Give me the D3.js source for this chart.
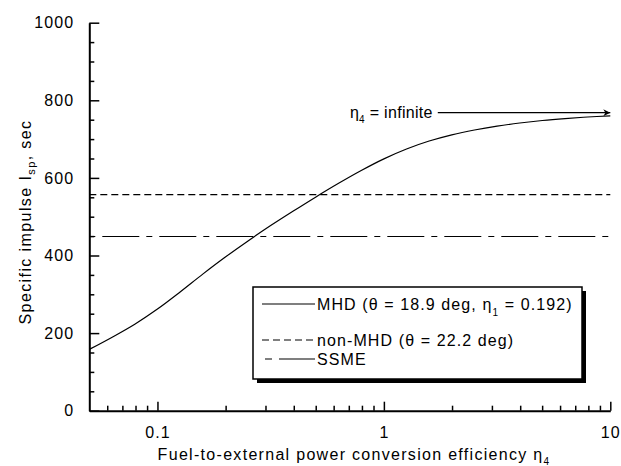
<!DOCTYPE html>
<html>
<head>
<meta charset="utf-8">
<script src="https://cdn.jsdelivr.net/npm/d3@7"></script>
<style>
  html, body { margin: 0; padding: 0; background: #fff; }
  svg { display: block; }
  text { font-family: "Liberation Sans", Arial, sans-serif; fill: #000; }
</style>
</head>
<body>
<svg id="chart" width="621" height="466"></svg>
<script>
// Fuel-to-external power conversion efficiency (log axis)
const eta = [0.05, 0.0631, 0.0794, 0.1, 0.1259, 0.1585, 0.1995, 0.2512, 0.3162, 0.3981, 0.5012, 0.631, 0.7943, 1, 1.259, 1.585, 1.995, 2.512, 3.162, 3.981, 5.012, 6.31, 7.943, 10];
// Specific impulse of the MHD-augmented engine, sec
const ispMHD = [158, 189.5, 223, 262, 306, 352, 396, 437.5, 477, 514.5, 551, 586, 619, 649, 674.5, 695, 711, 723.5, 733.5, 741.5, 748, 753, 757, 760];
// Constant reference levels, sec
const ispNonMHD = 557;
const ispSSME = 449;
// Asymptote marker for infinite efficiency
const arrowIsp = 768;
const arrowFrom = 1.73;
const arrowTo = 10;

const xTicks = [0.1, 1, 10];
const xTickLabels = ["0.1", "1", "10"];
const yTicks = [0, 200, 400, 600, 800, 1000];

const svg = d3.select("#chart");
const x = d3.scaleLog().domain([0.05, 10]).range([89.3, 610.3]);
const y = d3.scaleLinear().domain([0, 1000]).range([410.7, 22.7]);

const FONT = "16px";
const LS = "1.1px";

// minor ticks
const xMinor = [];
[0.01, 0.1, 1].forEach(d => { for (let k = 2; k <= 9; k++) { const v = d * k; if (v > 0.05 && v < 10) xMinor.push(+v.toFixed(4)); } });
const yMinor = d3.range(50, 1000, 50).filter(v => v % 200 !== 0);

svg.append("g").attr("transform", `translate(0,${y(0)})`)
  .call(d3.axisBottom(x).tickValues(xMinor).tickSize(-5).tickSizeOuter(0).tickFormat(""))
  .call(g => g.select(".domain").remove())
  .call(g => g.selectAll("line").attr("stroke", "#000").attr("stroke-width", 1.5));

svg.append("g").attr("transform", `translate(${x(0.05)},0)`)
  .call(d3.axisLeft(y).tickValues(yMinor).tickSize(-5).tickSizeOuter(0).tickFormat(""))
  .call(g => g.select(".domain").remove())
  .call(g => g.selectAll("line").attr("stroke", "#000").attr("stroke-width", 1.5));

// major axes
const xAxis = svg.append("g").attr("transform", `translate(0,${y(0)})`)
  .call(d3.axisBottom(x).tickValues(xTicks).tickFormat((d, i) => xTickLabels[i])
    .tickSize(-9).tickSizeOuter(0).tickPadding(16));
xAxis.select(".domain").attr("stroke", "#000").attr("stroke-width", 2);
xAxis.selectAll("line").attr("stroke", "#000").attr("stroke-width", 1.5);
xAxis.selectAll("text").attr("font-size", FONT).attr("letter-spacing", LS)
  .attr("font-family", "Liberation Sans, Arial, sans-serif").attr("fill", "#000");

const yAxis = svg.append("g").attr("transform", `translate(${x(0.05)},0)`)
  .call(d3.axisLeft(y).tickValues(yTicks).tickFormat(d3.format("d"))
    .tickSize(-10).tickSizeOuter(0).tickPadding(15));
yAxis.select(".domain").attr("stroke", "#000").attr("stroke-width", 2);
yAxis.selectAll("line").attr("stroke", "#000").attr("stroke-width", 1.5);
yAxis.selectAll("text").attr("font-size", FONT).attr("letter-spacing", LS)
  .attr("font-family", "Liberation Sans, Arial, sans-serif").attr("fill", "#000");

// reference levels
svg.append("line")
  .attr("x1", x(0.05)).attr("x2", x(10))
  .attr("y1", y(ispNonMHD)).attr("y2", y(ispNonMHD))
  .attr("stroke", "#000").attr("stroke-width", 1.2).attr("stroke-dasharray", "7,4");
svg.append("line")
  .attr("x1", x(0.05)).attr("x2", x(10))
  .attr("y1", y(ispSSME)).attr("y2", y(ispSSME))
  .attr("stroke", "#000").attr("stroke-width", 1.2).attr("stroke-dasharray", "6,7,37,7");

// MHD curve
const line = d3.line().x((d, i) => x(eta[i])).y(d => y(d)).curve(d3.curveCatmullRom.alpha(0.5));
svg.append("path").datum(ispMHD).attr("d", line)
  .attr("fill", "none").attr("stroke", "#000").attr("stroke-width", 1.2);

// asymptote arrow
svg.append("defs").append("marker")
  .attr("id", "head").attr("viewBox", "0 0 10 10").attr("refX", 10).attr("refY", 5)
  .attr("markerWidth", 10).attr("markerHeight", 7).attr("markerUnits", "userSpaceOnUse")
  .attr("orient", "auto")
  .append("path").attr("d", "M0,0 L10,5 L0,10 L3,5 Z").attr("fill", "#000");
svg.append("line")
  .attr("x1", x(arrowFrom)).attr("x2", x(arrowTo))
  .attr("y1", y(arrowIsp)).attr("y2", y(arrowIsp))
  .attr("stroke", "#000").attr("stroke-width", 1.2).attr("marker-end", "url(#head)");
const lab = svg.append("text")
  .attr("x", x(arrowFrom) - 5).attr("y", y(arrowIsp) + 5)
  .attr("text-anchor", "end").attr("font-size", FONT).attr("letter-spacing", "0.3px");
lab.append("tspan").text("η");
lab.append("tspan").attr("font-size", "10px").attr("dy", 5).text("4");
lab.append("tspan").attr("dy", -5).text(" = infinite");

// axis titles
const xt = svg.append("text")
  .attr("x", 354).attr("y", 460).attr("text-anchor", "middle")
  .attr("font-size", FONT).attr("letter-spacing", "1.3px");
xt.append("tspan").text("Fuel-to-external power conversion efficiency η");
xt.append("tspan").attr("font-size", "10px").attr("dy", 5).text("4");

const yt = svg.append("text")
  .attr("transform", "translate(31,222) rotate(-90)").attr("text-anchor", "middle")
  .attr("font-size", FONT).attr("letter-spacing", "1.4px");
yt.append("tspan").text("Specific impulse I");
yt.append("tspan").attr("font-size", "11px").attr("dy", 4).text("sp");
yt.append("tspan").attr("dy", -4).text(", sec");

// legend
const lg = svg.append("g");
lg.append("rect").attr("x", 257).attr("y", 291).attr("width", 329).attr("height", 92).attr("fill", "#000");
lg.append("rect").attr("x", 253).attr("y", 287).attr("width", 329).attr("height", 92)
  .attr("fill", "#fff").attr("stroke", "#000").attr("stroke-width", 1.5);

const entries = [
  { yy: 304, dash: null, x1: 262 },
  { yy: 340, dash: "7,4", x1: 262 },
  { yy: 359, dash: "7,7,40", x1: 265 }
];
entries.forEach(e => {
  lg.append("line").attr("x1", e.x1).attr("x2", 315).attr("y1", e.yy).attr("y2", e.yy)
    .attr("stroke", "#000").attr("stroke-width", 1.2)
    .attr("stroke-dasharray", e.dash);
});
const t1 = lg.append("text").attr("x", 317).attr("y", 310).attr("font-size", FONT).attr("letter-spacing", LS);
t1.append("tspan").text("MHD (θ = 18.9 deg, η");
t1.append("tspan").attr("font-size", "10px").attr("dy", 6).text("1");
t1.append("tspan").attr("dy", -6).text(" = 0.192)");
lg.append("text").attr("x", 317).attr("y", 346).attr("font-size", FONT).attr("letter-spacing", LS)
  .text("non-MHD (θ = 22.2 deg)");
lg.append("text").attr("x", 317).attr("y", 365).attr("font-size", FONT).attr("letter-spacing", LS)
  .text("SSME");
</script>
</body>
</html>
